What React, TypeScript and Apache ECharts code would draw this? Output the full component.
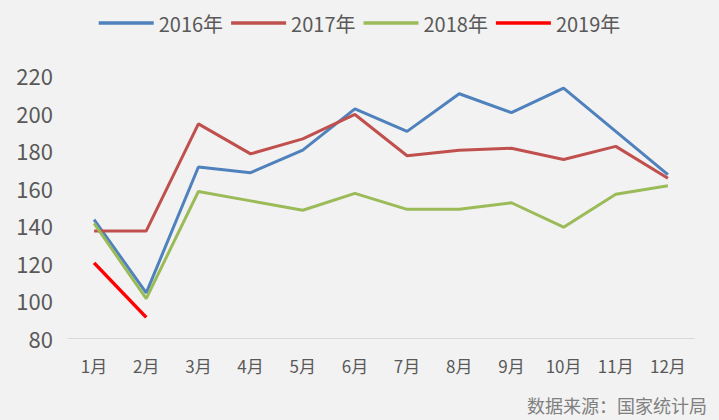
import React, { useEffect, useRef } from "react";
import * as echarts from "echarts";

const months = ["1月", "2月", "3月", "4月", "5月", "6月", "7月", "8月", "9月", "10月", "11月", "12月"];
const s2016 = [143, 104, 171, 168, 180, 202, 190, 210, 200, 213, 190, 167];
const s2017 = [137, 137, 194, 178, 186, 199, 177, 180, 181, 175, 182, 165];
const s2018 = [141, 101, 158, 153, 148, 157, 148.5, 148.5, 152, 139, 156.5, 161];
const s2019 = [120, 91];
const yTicks = { min: 80, max: 220, interval: 20 };
const sourceText = "数据来源：国家统计局";

const FONT = "'Noto Sans CJK SC', 'Noto Sans', sans-serif";

export default function App() {
  const ref = useRef<HTMLDivElement>(null);
  useEffect(() => {
    document.body.style.margin = "0";
    const chart = echarts.init(ref.current!, undefined, { renderer: "svg" });
    const mk = (name: string, data: number[], color: string, width: number) => ({
      name,
      type: "line",
      data,
      symbol: "none",
      lineStyle: { color, width },
      itemStyle: { color },
    });
    chart.setOption({
      animation: false,
      backgroundColor: "#f2f2f2",
      textStyle: { fontFamily: FONT },
      legend: {
        top: 8,
        left: "center",
        icon: "rect",
        itemWidth: 55,
        itemHeight: 3.5,
        itemGap: 8,
        textStyle: { fontSize: 20, color: "#595959", fontFamily: FONT },
        data: ["2016年", "2017年", "2018年", "2019年"],
      },
      grid: { left: 68, right: 25, top: 75, bottom: 82, containLabel: false },
      xAxis: {
        type: "category",
        data: months,
        boundaryGap: true,
        axisLine: { lineStyle: { color: "#d9d9d9", width: 1 } },
        axisTick: { show: false },
        axisLabel: { fontSize: 17, color: "#595959", margin: 19, fontFamily: FONT },
      },
      yAxis: {
        type: "value",
        min: yTicks.min,
        max: yTicks.max,
        interval: yTicks.interval,
        axisLine: { show: false },
        axisTick: { show: false },
        splitLine: { show: false },
        axisLabel: { fontSize: 22, color: "#595959", margin: 15, fontFamily: FONT },
      },
      graphic: [
        {
          type: "text",
          right: 12,
          top: 395,
          style: { text: sourceText, fontSize: 18, lineHeight: 20, fill: "#808080", fontFamily: FONT },
        },
      ],
      series: [
        mk("2016年", s2016, "#4f81bd", 3),
        mk("2017年", s2017, "#c0504d", 3),
        mk("2018年", s2018, "#9bbb59", 3),
        mk("2019年", s2019, "#ff0000", 3.5),
      ],
    });
    return () => chart.dispose();
  }, []);
  return <div ref={ref} style={{ width: 719, height: 420 }} />;
}
